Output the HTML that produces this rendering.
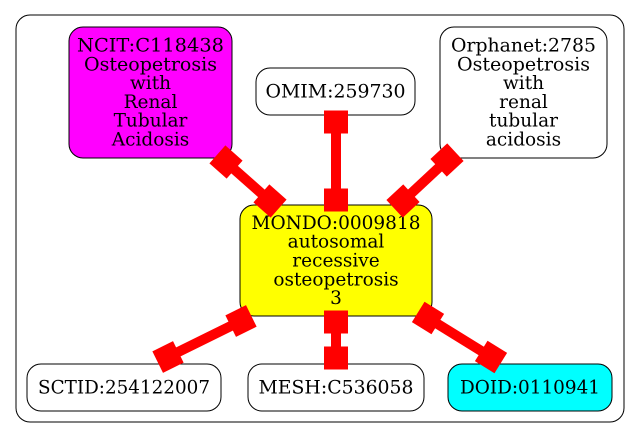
<!DOCTYPE html>
<html><head><meta charset="utf-8"><style>
html,body{margin:0;padding:0;background:#fff;}
svg{display:block;}
text{font-family:"DejaVu Serif","Liberation Serif",serif;font-size:18.5px;fill:#000;text-anchor:middle;}
</style></head><body>
<svg width="640" height="439" viewBox="0 0 640 439">
<rect x="16" y="15" width="608" height="407" rx="14" fill="#fff" stroke="#000" stroke-width="1"/>
<g id="nodes"></g>
<g id="edges"></g>
</svg>
<script>
const NS='http://www.w3.org/2000/svg';
const nodes=[
 {id:'ncit',x:69,y:27,w:163,h:131,fill:'#ff00ff',lines:['NCIT:C118438','Osteopetrosis','with','Renal','Tubular','Acidosis'],tl:[147,133]},
 {id:'omim',x:256,y:68,w:159,h:47,fill:'#fff',lines:['OMIM:259730'],tl:[140]},
 {id:'orphanet',x:440,y:27,w:167,h:131,fill:'#fff',lines:['Orphanet:2785','Osteopetrosis','with','renal','tubular','acidosis'],tl:[145,133]},
 {id:'mondo',x:240,y:205,w:192,h:111,fill:'#ffff00',lines:['MONDO:0009818','autosomal','recessive','osteopetrosis','3'],tl:[169]},
 {id:'sctid',x:27,y:364,w:194,h:47,fill:'#fff',lines:['SCTID:254122007'],tl:[172]},
 {id:'mesh',x:248,y:364,w:176,h:47,fill:'#fff',lines:['MESH:C536058'],tl:[155]},
 {id:'doid',x:448,y:364,w:164,h:47,fill:'#00ffff',lines:['DOID:0110941'],tl:[140]}
];
const edges=[
 {id:'ncit-mondo',a:[226,162],b:[270,201]},
 {id:'omim-mondo',a:[336,122],b:[336,200]},
 {id:'orphanet-mondo',a:[447,160],b:[403,201]},
 {id:'mondo-sctid',a:[241,321],b:[168,357]},
 {id:'mondo-mesh',a:[336,322],b:[336,358]},
 {id:'mondo-doid',a:[428,318],b:[491,357]}
];
const ng=document.getElementById('nodes');
nodes.forEach(n=>{
 const g=document.createElementNS(NS,'g');
 
 
 const r=document.createElementNS(NS,'rect');
 r.setAttribute('x',n.x);r.setAttribute('y',n.y);r.setAttribute('width',n.w);r.setAttribute('height',n.h);
 r.setAttribute('rx',14);r.setAttribute('fill',n.fill);r.setAttribute('stroke','#000');r.setAttribute('stroke-width','1');
 g.appendChild(r);
 const cx=n.x+n.w/2,cy=n.y+n.h/2,lh=18.8;
 const y0=cy-(n.lines.length-1)*lh/2+6;
 n.lines.forEach((t,i)=>{
  const tx=document.createElementNS(NS,'text');
  tx.setAttribute('x',cx);tx.setAttribute('y',y0+i*lh);
  if(n.tl[i]){tx.setAttribute('textLength',n.tl[i]);tx.setAttribute('lengthAdjust','spacingAndGlyphs');}
  tx.textContent=t;
  g.appendChild(tx);
 });
 ng.appendChild(g);
});
const eg=document.getElementById('edges');
edges.forEach(e=>{
 const dx=e.b[0]-e.a[0],dy=e.b[1]-e.a[1],L=Math.hypot(dx,dy),ux=dx/L,uy=dy/L;
 const ang=Math.atan2(dy,dx)*180/Math.PI;
 const g=document.createElementNS(NS,'g');
 
 
 const ln=document.createElementNS(NS,'line');
 ln.setAttribute('x1',e.a[0]-ux*11);ln.setAttribute('y1',e.a[1]-uy*11);
 ln.setAttribute('x2',e.b[0]+ux*11);ln.setAttribute('y2',e.b[1]+uy*11);
 ln.setAttribute('stroke','#ff0000');ln.setAttribute('stroke-width','10');
 g.appendChild(ln);
 [e.a,e.b].forEach(p=>{
  const r=document.createElementNS(NS,'rect');
  r.setAttribute('x',-11.5);r.setAttribute('y',-12);r.setAttribute('width',23);r.setAttribute('height',24);
  r.setAttribute('fill','#ff0000');
  r.setAttribute('transform','translate('+p[0]+','+p[1]+') rotate('+ang+')');
  g.appendChild(r);
 });
 eg.appendChild(g);
});
</script>
</body></html>
